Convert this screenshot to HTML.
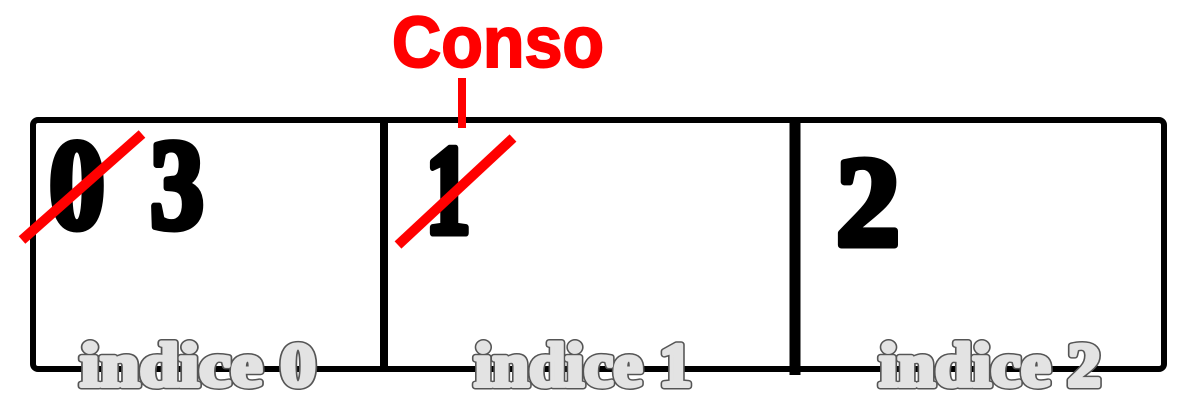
<!DOCTYPE html>
<html><head><meta charset="utf-8"><style>
html,body{margin:0;padding:0;background:#fff;width:1200px;height:400px;overflow:hidden}
svg{display:block}
.dig{font-family:"Liberation Serif",serif;font-weight:bold;font-size:128px;fill:#000;stroke:#000;stroke-width:7;stroke-linejoin:round}
.labo{font-family:"Liberation Serif",serif;font-weight:bold;font-size:62px;fill:#555;stroke:#555;stroke-width:7;stroke-linejoin:round}
.lab{font-family:"Liberation Serif",serif;font-weight:bold;font-size:62px;fill:#e3e3e3;stroke:#e3e3e3;stroke-width:4;stroke-linejoin:round}
</style></head><body>
<svg width="1200" height="400" viewBox="0 0 1200 400">
  <rect x="33" y="120" width="1131" height="249" rx="5" fill="none" stroke="#000" stroke-width="6"/>
  <line x1="384" y1="118" x2="384" y2="370" stroke="#000" stroke-width="8"/>
  <line x1="795" y1="118" x2="795" y2="375" stroke="#000" stroke-width="11"/>

  <text class="dig" x="49" y="228" textLength="56" lengthAdjust="spacingAndGlyphs">0</text>
  <text class="dig" x="150" y="228" textLength="54" lengthAdjust="spacingAndGlyphs">3</text>
  <text class="dig" x="425" y="233" textLength="46" lengthAdjust="spacingAndGlyphs">1</text>
  <text class="dig" x="836" y="245" textLength="64" lengthAdjust="spacingAndGlyphs">2</text>

  <line x1="22" y1="240" x2="142" y2="134" stroke="#f00" stroke-width="10"/>
  <line x1="398" y1="245" x2="513" y2="138" stroke="#f00" stroke-width="10"/>

  <text x="392" y="67" textLength="212" lengthAdjust="spacingAndGlyphs" style="font-family:'Liberation Sans Narrow','Liberation Sans',sans-serif;font-weight:bold;font-size:72px;fill:#f00;stroke:#f00;stroke-width:2">Conso</text>
  <line x1="462" y1="78" x2="462" y2="128" stroke="#f00" stroke-width="8"/>

  <g>
    <text class="labo" x="80" y="386" textLength="236" lengthAdjust="spacingAndGlyphs">indice 0</text>
    <text class="lab" x="80" y="386" textLength="236" lengthAdjust="spacingAndGlyphs">indice 0</text>
    <text class="labo" x="474" y="386" textLength="218" lengthAdjust="spacingAndGlyphs">indice 1</text>
    <text class="lab" x="474" y="386" textLength="218" lengthAdjust="spacingAndGlyphs">indice 1</text>
    <text class="labo" x="879" y="386" textLength="222" lengthAdjust="spacingAndGlyphs">indice 2</text>
    <text class="lab" x="879" y="386" textLength="222" lengthAdjust="spacingAndGlyphs">indice 2</text>
  </g>
</svg>
</body></html>
